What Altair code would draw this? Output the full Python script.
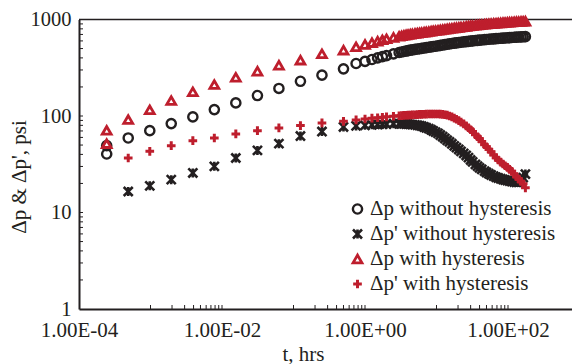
import altair as alt
import pandas as pd

# ---------------- data ----------------
t_hrs = [0.000244, 0.000244, 0.000488, 0.000977, 0.00195, 0.00391, 0.00781, 0.0156, 0.0313,
         0.0625, 0.125, 0.25, 0.5,
         0.75, 1, 1.25, 1.5, 1.75, 2, 2.5,
         3, 3.25, 3.5, 3.75, 4, 4.3, 4.6, 5, 5.4, 5.8, 6.2, 6.7, 7.2, 7.8, 8.4, 9, 9.7, 10.5,
         11.3, 12.2, 13.1, 14.1, 15.2, 16.4, 17.7, 19, 20.5, 22, 24, 26, 28, 30, 32, 35, 37.5,
         40, 43, 47, 50, 54, 58, 63, 68, 73, 79, 85, 91, 98, 105, 113, 122, 131, 141, 152,
         163, 175]

dp_without = [49.3, 40.4, 59.2, 70.5, 83.4, 97.9, 116.5, 136.7, 163, 193, 229, 265, 308,
              350, 368, 385, 400, 412, 422, 440,
              455, 461, 466, 471, 476, 481, 485, 490, 494, 498, 502, 507, 511, 516, 520, 525,
              529, 534, 539, 544, 549, 554, 559, 564, 569, 573, 577, 581, 586, 590, 594, 598,
              601, 605, 608, 611, 614, 618, 621, 624, 627, 630, 633, 636, 639, 641, 643, 646,
              648, 651, 654, 656, 658, 660, 662, 664]

dpd_without = [None, None, 16.5, 18.9, 21.9, 25.7, 30.1, 36.7, 44, 51.7, 62, 69, 77,
               79, 80, 81, 81.5, 82, 82.5, 83,
               83, 83, 82.8, 82.7, 82.5, 82, 81.5, 81, 80.2, 79.5, 78.5, 77, 75.5, 74, 72, 70,
               68, 66, 63.5, 61, 58.5, 56, 54, 51.5, 49, 47, 45, 43, 41, 39, 37, 35, 33.5,
               31.5, 30.2, 29, 28, 26.8, 26, 25.2, 24.5, 23.8, 23.2, 22.8, 22.4, 22, 21.7,
               21.4, 21.2, 20.9, 20.7, 20.5, 20.5, 21, 23, 25]

dp_with = [71, 51.7, 91.8, 116, 144.5, 178, 212, 252, 291, 336, 379, 441, 481,
           521, 551, 575, 596, 615, 630, 652,
           670, 678, 685, 692, 698, 704, 710, 716, 722, 728, 733, 739, 744, 750, 756, 762, 767,
           773, 779, 786, 792, 798, 804, 810, 817, 822, 828, 834, 841, 848, 854, 859, 864, 871,
           876, 880, 885, 891, 896, 901, 905, 910, 914, 918, 922, 926, 930, 934, 937, 941,
           945, 948, 952, 955, 958, 961]

dpd_with = [None, None, 36.7, 43, 49.3, 55.5, 59.2, 65.2, 70.5, 75.2, 79.5, 84.8, 88,
            91, 93, 95, 96, 97, 98, 99.5,
            100.5, 101, 101.5, 101.8, 102, 102.5, 102.8, 103, 103.4, 103.8, 104, 104.3, 104.5,
            104.8, 105, 105, 105, 104.8, 104.5, 104, 103, 102, 100, 98, 95, 92.5, 89.5, 86.5,
            83, 79, 75.5, 72, 69, 64, 61, 58, 54.5, 50.5, 48, 45, 42.5, 39.5, 37, 35, 33.3,
            31.8, 30.5, 29.3, 28, 26.7, 25, 23.5, 22.2, 21, 19.8, 18]

series_names = ["Δp without hysteresis", "Δp' without hysteresis",
                "Δp with hysteresis", "Δp' with hysteresis"]

x_label_values = [0.0001, 0.01, 1, 100]
x_label_texts = ["1.00E-04", "1.00E-02", "1.00E+00", "1.00E+02"]
x_tick_values = [0.001, 0.002, 0.003, 0.004, 0.005, 0.006, 0.007, 0.008, 0.009, 0.01,
                 0.1, 0.2, 0.3, 0.4, 0.5, 0.6, 0.7, 0.8, 0.9, 1,
                 10, 20, 30, 40, 50, 60, 70, 80, 90, 100]
y_label_values = [1, 10, 100, 1000]
y_tick_values = [2, 3, 4, 5, 6, 7, 8, 9, 10, 20, 30, 40, 50, 60, 70, 80, 90, 100,
                 200, 300, 400, 500, 600, 700, 800, 900]

# ---------------- build table ----------------
rows = []
for i, (name, vals) in enumerate(zip(series_names, [dp_without, dpd_without, dp_with, dpd_with])):
    for t, v in zip(t_hrs, vals):
        if v is not None:
            rows.append({"t": t, "v": v, "series": name, "order": i})
df = pd.DataFrame(rows)

BLACK = "#231f20"
RED = "#be1e2d"
FONT = "Liberation Serif, Times New Roman, DejaVu Serif, serif"
W, H = 493, 289.5

label_expr = "''"
for val, txt in reversed(list(zip(x_label_values, x_label_texts))):
    label_expr = f"(abs(datum.value - {val}) < {val} * 0.01) ? '{txt}' : ({label_expr})"

x_scale = alt.Scale(type="log", domain=[0.0001, 785], nice=False)
y_scale = alt.Scale(type="log", domain=[1, 1000], nice=False)

x_axis = alt.Axis(values=x_label_values, labelExpr=label_expr, ticks=False, grid=False,
                  domainColor=BLACK, domainWidth=2, labelFont=FONT, labelFontSize=21,
                  labelColor=BLACK, labelPadding=10, labelOverlap=False, labelBound=False,
                  labelFlush=False,
                  title="t, hrs", titleFont=FONT, titleFontSize=21, titleFontWeight="normal",
                  titleColor=BLACK, titleX=224, titleY=51, titleBaseline="alphabetic")
y_axis = alt.Axis(values=y_label_values, format="d", ticks=False, grid=False,
                  domainColor=BLACK, domainWidth=2, labelFont=FONT, labelFontSize=20.5,
                  labelColor=BLACK, labelPadding=8, labelOverlap=False,
                  title="Δp & Δp', psi", titleFont=FONT, titleFontSize=21,
                  titleFontWeight="normal", titleColor=BLACK, titleAngle=270,
                  titleX=-54, titleY=157, titleBaseline="alphabetic", titleAlign="center")

shape_x = "M-1,-1L1,1M-1,1L1,-1M0,-1L0,1"
shape_plus = "M-1,0L1,0M0,-1L0,1"

points = alt.Chart(df).mark_point(filled=False, opacity=1).encode(
    x=alt.X("t:Q", scale=x_scale, axis=x_axis),
    y=alt.Y("v:Q", scale=y_scale, axis=y_axis),
    color=alt.Color("series:N", scale=alt.Scale(domain=series_names,
                                                  range=[BLACK, BLACK, RED, RED]),
                    legend=alt.Legend(title=None, orient="none", legendX=268, legendY=179,
                                      labelFont=FONT, labelFontSize=21, labelColor=BLACK,
                                      symbolSize=45, symbolStrokeWidth=2.8, rowPadding=3,
                                      labelOffset=2, padding=0, labelLimit=400,
                                      symbolOpacity=1)),
    shape=alt.Shape("series:N", scale=alt.Scale(domain=series_names,
                                                  range=["circle", shape_x, "triangle-up", shape_plus])),
    size=alt.Size("series:N", scale=alt.Scale(domain=series_names, range=[85, 75, 110, 95]),
                  legend=None),
    strokeWidth=alt.StrokeWidth("series:N", scale=alt.Scale(domain=series_names,
                                                             range=[2.4, 3, 2.6, 2.8]),
                                legend=None),
    order=alt.Order("order:Q"),
)

x_ticks = alt.Chart(pd.DataFrame({"t": x_tick_values})).mark_rule(
    color=BLACK, strokeWidth=1).encode(
    x=alt.X("t:Q", scale=x_scale, axis=x_axis),
    y=alt.value(H), y2=alt.value(H - 4))

y_ticks = alt.Chart(pd.DataFrame({"v": y_tick_values})).mark_rule(
    color=BLACK, strokeWidth=1).encode(
    y=alt.Y("v:Q", scale=y_scale, axis=y_axis),
    x=alt.value(0), x2=alt.value(4))

top_line = alt.Chart(pd.DataFrame({"k": [0]})).mark_rule(
    color=BLACK, strokeWidth=1.5).encode(
    x=alt.value(0), x2=alt.value(W), y=alt.value(0))

chart = alt.layer(x_ticks, y_ticks, top_line, points).properties(
    width=W, height=H,
    autosize=alt.AutoSizeParams(type="none"),
    padding={"left": 79, "top": 19.5, "right": 0, "bottom": 55},
    background="white",
).configure(font=FONT).configure_view(stroke=None)

chart.save("out.html", embed_options={"renderer": "svg", "actions": False})
